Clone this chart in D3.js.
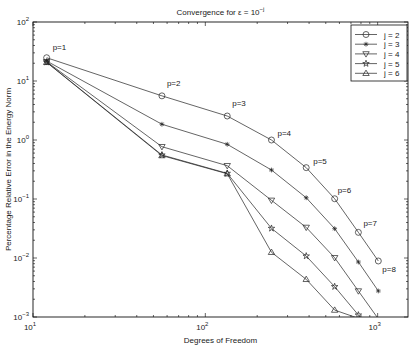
<!DOCTYPE html>
<html>
<head>
<meta charset="utf-8">
<script src="https://cdn.jsdelivr.net/npm/d3@7"></script>
<style>
  body { margin: 0; background: #fff; }
  text { font-family: "Liberation Sans", Arial, sans-serif; fill: #1a1a1a; }
</style>
</head>
<body>
<div id="chart"></div>
<script>
// degrees of freedom for p = 1..8
const dof = [12, 56, 134, 242, 385, 563, 773, 1009];
const pLabels = ["p=1", "p=2", "p=3", "p=4", "p=5", "p=6", "p=7", "p=8"];

// error (%) per series j
const errJ2 = [24.8, 5.6, 2.55, 1.0, 0.34, 0.101, 0.0272, 0.0089];
const errJ3 = [21.8, 1.85, 0.845, 0.31, 0.105, 0.0314, 0.00855, 0.00276];
const errJ4 = [21.2, 0.77, 0.367, 0.095, 0.033, 0.0101, 0.00276, 0.00093];
const errJ5 = [20.9, 0.557, 0.272, 0.0318, 0.0108, 0.00327, 0.00108, 0.00043];
const errJ6 = [20.7, 0.545, 0.268, 0.0125, 0.00435, 0.00131, 0.00095, 0.0003];

const seriesNames = ["j = 2", "j = 3", "j = 4", "j = 5", "j = 6"];
const seriesVals = [errJ2, errJ3, errJ4, errJ5, errJ6];
const markerKinds = ["circle", "asterisk", "triDown", "star", "triUp"];

const xTicks = [10, 100, 1000];
const yTicks = [1e-3, 1e-2, 1e-1, 1e0, 1e1, 1e2];

const W = 415, H = 346;
const m = { left: 33, right: 7, top: 22, bottom: 29 };

const svg = d3.select("#chart").append("svg")
    .attr("width", W).attr("height", H);

const x = d3.scaleLog().domain([10, 1500]).range([m.left, W - m.right]);
const y = d3.scaleLog().domain([1e-3, 1e2]).range([H - m.bottom, m.top]);

const x0 = x.range()[0], x1 = x.range()[1];
const y0 = y.range()[0], y1 = y.range()[1];

svg.append("clipPath").attr("id", "clip")
  .append("rect").attr("x", x0).attr("y", y1)
  .attr("width", x1 - x0).attr("height", y0 - y1);

// ticks (inside, on all four sides)
const tickG = svg.append("g").attr("stroke", "#222").attr("stroke-width", 0.7);
const minorX = [];
[10, 100, 1000].forEach(d => { for (let k = 2; k <= 9; k++) if (d * k <= 1500) minorX.push(d * k); });
const minorY = [];
[1e-3, 1e-2, 1e-1, 1, 10].forEach(d => { for (let k = 2; k <= 9; k++) minorY.push(d * k); });

function xt(v, len) {
  tickG.append("line").attr("x1", x(v)).attr("x2", x(v)).attr("y1", y0).attr("y2", y0 - len);
  tickG.append("line").attr("x1", x(v)).attr("x2", x(v)).attr("y1", y1).attr("y2", y1 + len);
}
function yt(v, len) {
  tickG.append("line").attr("y1", y(v)).attr("y2", y(v)).attr("x1", x0).attr("x2", x0 + len);
  tickG.append("line").attr("y1", y(v)).attr("y2", y(v)).attr("x1", x1).attr("x2", x1 - len);
}
minorX.forEach(v => xt(v, 2));
xTicks.forEach(v => xt(v, 4));
minorY.forEach(v => yt(v, 2));
yTicks.forEach(v => yt(v, 4));

// frame
svg.append("rect").attr("x", x0).attr("y", y1)
  .attr("width", x1 - x0).attr("height", y0 - y1)
  .attr("fill", "none").attr("stroke", "#111").attr("stroke-width", 0.9);

// tick labels as 10^n
function powLabel(g, px, py, exp, anchor) {
  const t = g.append("text").attr("x", px).attr("y", py)
    .attr("font-size", 8).attr("text-anchor", anchor);
  t.append("tspan").text("10");
  t.append("tspan").attr("dy", -4).attr("font-size", 6).text(exp);
  return t;
}
xTicks.forEach(v => powLabel(svg, x(v) - 3, y0 + 13, String(Math.round(Math.log10(v))).replace("-", "\u2212"), "middle"));
yTicks.forEach(v => powLabel(svg, x0 - 4, y(v) + 3, String(Math.round(Math.log10(v))).replace("-", "\u2212"), "end"));

// axis titles
svg.append("text").attr("x", (x0 + x1) / 2).attr("y", H - 3)
  .attr("text-anchor", "middle").attr("font-size", 8).text("Degrees of Freedom");
svg.append("text")
  .attr("transform", `translate(11, ${(y0 + y1) / 2}) rotate(-90)`)
  .attr("text-anchor", "middle").attr("font-size", 8)
  .text("Percentage Relative Error in the Energy Norm");

const title = svg.append("text").attr("x", (x0 + x1) / 2).attr("y", 15)
  .attr("text-anchor", "middle").attr("font-size", 8);
title.append("tspan").text("Convergence for \u03b5 = 10");
title.append("tspan").attr("dy", -4).attr("font-size", 6).text("\u2212j");

// markers
function drawMarker(g, kind, cx, cy) {
  const s = g.append("g").attr("transform", `translate(${cx},${cy})`)
    .attr("fill", "none").attr("stroke", "#222").attr("stroke-width", 0.7);
  if (kind === "circle") s.append("circle").attr("r", 3);
  if (kind === "asterisk") {
    const r = 2.4;
    s.append("path").attr("d", `M${-r},0H${r}M0,${-r}V${r}M${-r*0.7},${-r*0.7}L${r*0.7},${r*0.7}M${-r*0.7},${r*0.7}L${r*0.7},${-r*0.7}`);
  }
  if (kind === "triDown") s.append("path").attr("d", "M-3.2,-2.2L3.2,-2.2L0,3.2Z");
  if (kind === "triUp") s.append("path").attr("d", "M-3.2,2.2L3.2,2.2L0,-3.2Z");
  if (kind === "star") s.append("path").attr("d", d3.symbol(d3.symbolStar, 13)());
}

const plotG = svg.append("g").attr("clip-path", "url(#clip)");
const line = d3.line().x(d => x(d[0])).y(d => y(d[1]));

seriesVals.forEach((vals, i) => {
  const pts = dof.map((d, k) => [d, vals[k]]);
  plotG.append("path").datum(pts).attr("d", line)
    .attr("fill", "none").attr("stroke", "#222").attr("stroke-width", 0.7);
  pts.filter(p => p[1] >= 1e-3).forEach(p => drawMarker(plotG, markerKinds[i], x(p[0]), y(p[1])));
});

// p labels near the j = 2 curve
const labelOff = [[6, -8], [5, -10], [5, -10], [6, -4], [7, -4], [3, -6], [5, -6], [4, 11]];
pLabels.forEach((lab, k) => {
  svg.append("text").attr("x", x(dof[k]) + labelOff[k][0]).attr("y", y(errJ2[k]) + labelOff[k][1])
    .attr("font-size", 8).text(lab);
});

// legend
const lg = svg.append("g");
lg.append("rect").attr("x", 351).attr("y", 25).attr("width", 56).attr("height", 56)
  .attr("fill", "#fff").attr("stroke", "#111").attr("stroke-width", 0.8);
seriesNames.forEach((name, i) => {
  const ly = 34.5 + i * 9.7;
  lg.append("line").attr("x1", 355).attr("x2", 377).attr("y1", ly).attr("y2", ly)
    .attr("stroke", "#222").attr("stroke-width", 0.7);
  drawMarker(lg, markerKinds[i], 366, ly);
  lg.append("text").attr("x", 384).attr("y", ly + 3).attr("font-size", 8).text(name);
});
</script>
</body>
</html>
